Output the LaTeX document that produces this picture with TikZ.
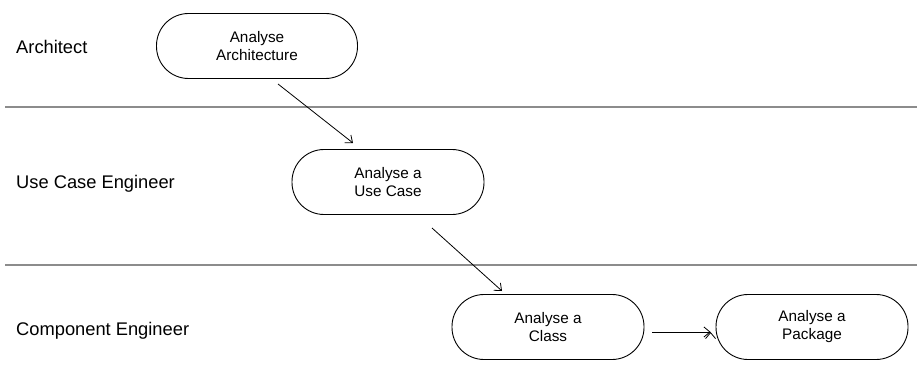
\documentclass[tikz,border=0pt]{standalone}
\usepackage{fontspec}
\setmainfont{Liberation Sans}
\usetikzlibrary{arrows.meta}
\begin{document}
\begin{tikzpicture}[x=1pt,y=-1pt,
  act/.style={draw, line width=0.9pt, rounded corners=32pt, minimum width=192pt, minimum height=65pt, align=center, font=\fontsize{15.3}{18}\selectfont, inner sep=0pt},
  lane/.style={draw=black!45, line width=1.2pt},
  flow/.style={draw, line width=0.8pt, -{Straight Barb[length=6pt,width=10pt]}},
  lbl/.style={anchor=west, font=\fontsize{18.3}{20}\selectfont, inner sep=0pt}]
\useasboundingbox (0,0) rectangle (917,366);
\coordinate (l1a) at (5,107); \coordinate (l1b) at (917,107);
\coordinate (l2a) at (5,265); \coordinate (l2b) at (917,265);
\draw[lane] (l1a) -- (l1b);
\draw[lane] (l2a) -- (l2b);
\node[lbl] (r1) at (16,47) {Architect};
\node[lbl] (r2) at (16,184) {Use Case Engineer};
\node[lbl] (r3) at (16,331) {Component Engineer};
\node[act, minimum width=201pt] (aa) at (257,46) {Analyse\\Architecture};
\node[act] (uc) at (388,182) {Analyse a\\Use Case};
\node[act] (cl) at (548,327) {Analyse a\\Class};
\node[act] (pk) at (812,327) {Analyse a\\Package};
\draw[flow] (278,84) -- (353,143);
\draw[flow] (432,228) -- (502,291);
\draw[flow] (cl.east) ++(8,5) coordinate (c1) (pk.west) ++(-5,5) coordinate (p1);
\draw[flow] (c1) -- (p1);
\end{tikzpicture}
\end{document}
